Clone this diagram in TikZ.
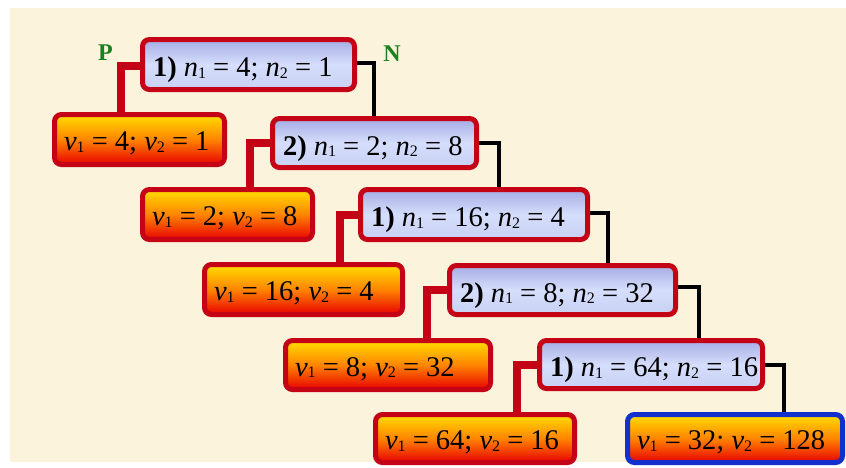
\documentclass[tikz,border=0pt]{standalone}
\usepackage{fontspec}
\setmainfont{Liberation Serif}
\definecolor{bg}{RGB}{252,243,220}
\definecolor{bred}{RGB}{196,4,22}
\definecolor{bblue}{RGB}{18,48,205}
\definecolor{ntop}{RGB}{165,172,228}
\definecolor{nmid}{RGB}{214,222,252}
\definecolor{nbot}{RGB}{200,208,244}
\definecolor{vtop}{RGB}{255,222,0}
\definecolor{vmid}{RGB}{255,132,0}
\definecolor{vbot}{RGB}{232,0,0}
\definecolor{lgreen}{RGB}{26,128,32}
\tikzset{
  nbox/.style={draw=bred, line width=5pt, rounded corners=7pt, top color=ntop, bottom color=nbot, middle color=nmid, inner sep=0pt},
  vbox/.style={draw=bred, line width=5pt, rounded corners=7pt, top color=vtop, bottom color=vbot, middle color=vmid, inner sep=0pt},
  lbl/.style={anchor=base west, inner sep=0pt, font=\rmfamily\fontsize{28.5}{31}\selectfont},
  redc/.style={draw=bred, line width=8pt},
  blkc/.style={draw=black, line width=3.2pt},
  pn/.style={text=lgreen, font=\rmfamily\fontsize{24}{26}\selectfont\bfseries, inner sep=0pt}
}
\newcommand{\sbs}[1]{\raisebox{-1.5pt}{\fontsize{16}{16}\selectfont #1}}
\newcommand{\nn}[1]{\textit{n}\sbs{#1}}
\newcommand{\vv}[1]{\textit{v}\sbs{#1}}
\begin{document}
\begin{tikzpicture}[x=1pt,y=-1pt]
\useasboundingbox (0,0) rectangle (846,467);
\fill[white] (0,0) rectangle (846,467);
\fill[bg] (10,8) rectangle (846,462);
% connector bends
\coordinate (r1) at (121,66);
\coordinate (r2) at (250,143);
\coordinate (r3) at (340,214.5);
\coordinate (r4) at (427,290);
\coordinate (r5) at (517,364.5);
\coordinate (k1) at (374,63);
\coordinate (k2) at (499,143);
\coordinate (k3) at (608,213);
\coordinate (k4) at (699,287);
\coordinate (k5) at (784,365);
% boxes (first pass, used for anchors)
\path (248.5,64.5) node[minimum width=212pt, minimum height=50pt, inner sep=0pt] (n1) {};
\path (374.5,143) node[minimum width=204pt, minimum height=49pt, inner sep=0pt] (n2) {};
\path (474,214.5) node[minimum width=227pt, minimum height=50pt, inner sep=0pt] (n3) {};
\path (562.5,290) node[minimum width=226pt, minimum height=49pt, inner sep=0pt] (n4) {};
\path (651,364.5) node[minimum width=223pt, minimum height=48pt, inner sep=0pt] (n5) {};
\path (139.5,139.5) node[minimum width=170pt, minimum height=50pt, inner sep=0pt] (v1) {};
\path (227.5,214.5) node[minimum width=170pt, minimum height=50pt, inner sep=0pt] (v2) {};
\path (303.5,289.5) node[minimum width=198pt, minimum height=50pt, inner sep=0pt] (v3) {};
\path (388,365) node[minimum width=205pt, minimum height=49pt, inner sep=0pt] (v4) {};
\path (475,438.5) node[minimum width=199pt, minimum height=48pt, inner sep=0pt] (v5) {};
\path (735,438.5) node[minimum width=215pt, minimum height=48pt, inner sep=0pt] (v6) {};
% connectors
\draw[redc] (n1.west |- r1) -- (r1) -- (r1 |- v1.north);
\draw[redc] (n2.west |- r2) -- (r2) -- (r2 |- v2.north);
\draw[redc] (n3.west |- r3) -- (r3) -- (r3 |- v3.north);
\draw[redc] (n4.west |- r4) -- (r4) -- (r4 |- v4.north);
\draw[redc] (n5.west |- r5) -- (r5) -- (r5 |- v5.north);
\draw[blkc] (n1.east |- k1) -- (k1) -- (k1 |- n2.north);
\draw[blkc] (n2.east |- k2) -- (k2) -- (k2 |- n3.north);
\draw[blkc] (n3.east |- k3) -- (k3) -- (k3 |- n4.north);
\draw[blkc] (n4.east |- k4) -- (k4) -- (k4 |- n5.north);
\draw[blkc] (n5.east |- k5) -- (k5) -- (k5 |- v6.north);
% visible boxes
\node[nbox, minimum width=212pt, minimum height=50pt] at (n1) {};
\node[nbox, minimum width=204pt, minimum height=49pt] at (n2) {};
\node[nbox, minimum width=227pt, minimum height=50pt] at (n3) {};
\node[nbox, minimum width=226pt, minimum height=49pt] at (n4) {};
\node[nbox, minimum width=223pt, minimum height=48pt] at (n5) {};
\node[vbox, minimum width=170pt, minimum height=50pt] at (v1) {};
\node[vbox, minimum width=170pt, minimum height=50pt] at (v2) {};
\node[vbox, minimum width=198pt, minimum height=50pt] at (v3) {};
\node[vbox, minimum width=205pt, minimum height=49pt] at (v4) {};
\node[vbox, minimum width=199pt, minimum height=48pt] at (v5) {};
\node[vbox, draw=bblue, minimum width=215pt, minimum height=48pt] at (v6) {};
% labels
\node[lbl] (t1) at ([xshift=10.5pt,yshift=-12pt]n1.west) {\textbf{1)} \nn1 = 4; \nn2 = 1};
\node[lbl] (t2) at ([xshift=10.5pt,yshift=-12pt]n2.west) {\textbf{2)} \nn1 = 2; \nn2 = 8};
\node[lbl] (t3) at ([xshift=10.5pt,yshift=-12pt]n3.west) {\textbf{1)} \nn1 = 16; \nn2 = 4};
\node[lbl] (t4) at ([xshift=10.5pt,yshift=-12pt]n4.west) {\textbf{2)} \nn1 = 8; \nn2 = 32};
\node[lbl] (t5) at ([xshift=10.5pt,yshift=-12pt]n5.west) {\textbf{1)} \nn1 = 64; \nn2 = 16};
\node[lbl] (u1) at ([xshift=9.5pt,yshift=-11pt]v1.west) {\vv1 = 4; \vv2 = 1};
\node[lbl] (u2) at ([xshift=9.5pt,yshift=-11pt]v2.west) {\vv1 = 2; \vv2 = 8};
\node[lbl] (u3) at ([xshift=9.5pt,yshift=-11pt]v3.west) {\vv1 = 16; \vv2 = 4};
\node[lbl] (u4) at ([xshift=9.5pt,yshift=-11pt]v4.west) {\vv1 = 8; \vv2 = 32};
\node[lbl] (u5) at ([xshift=9.5pt,yshift=-11pt]v5.west) {\vv1 = 64; \vv2 = 16};
\node[lbl] (u6) at ([xshift=9.5pt,yshift=-11pt]v6.west) {\vv1 = 32; \vv2 = 128};
\node[pn] (P) at (105.5,53) {P};
\node[pn] (N) at (392,54) {N};
\end{tikzpicture}
\end{document}
